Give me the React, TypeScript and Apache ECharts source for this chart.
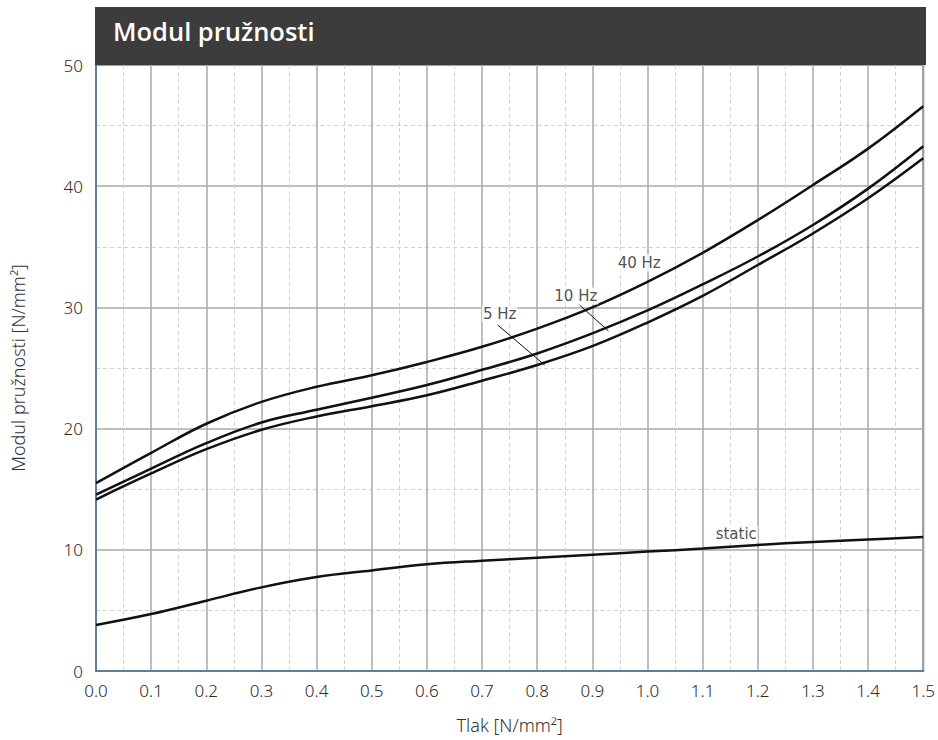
import React, { useEffect, useRef } from "react";
import * as echarts from "echarts";

const pressure = [0, 0.1, 0.2, 0.3, 0.4, 0.5, 0.6, 0.7, 0.8, 0.9, 1.0, 1.1, 1.2, 1.3, 1.4, 1.5];
const e40 = [15.5, 18.0, 20.4, 22.2, 23.45, 24.4, 25.5, 26.75, 28.25, 30.0, 32.1, 34.5, 37.2, 40.1, 43.1, 46.6];
const e10 = [14.55, 16.7, 18.8, 20.5, 21.55, 22.55, 23.6, 24.85, 26.2, 27.85, 29.75, 31.9, 34.2, 36.8, 39.8, 43.3];
const e5 = [14.15, 16.3, 18.3, 19.9, 21.0, 21.85, 22.75, 23.95, 25.25, 26.8, 28.75, 30.95, 33.5, 36.1, 39.0, 42.3];
const eStatic = [3.8, 4.7, 5.8, 6.9, 7.75, 8.3, 8.8, 9.1, 9.35, 9.6, 9.85, 10.1, 10.4, 10.65, 10.85, 11.05];

const labelNames = ["40 Hz", "10 Hz", "5 Hz", "static"];
const labelX = [0.985, 0.87, 0.732, 1.161];
const labelY = [33.66, 30.94, 29.46, 11.3];

// leader lines: [x1, y1, x2, y2]
const leader5 = [0.7283, 28.55, 0.8134, 25.25];
const leader10 = [0.8768, 30.2, 0.9293, 28.05];

const title = "Modul pružnosti";
const xName = "Tlak [N/mm²]";
const yName = "Modul pružnosti [N/mm²]";

const zip = (ys: number[]) => pressure.map((x, i) => [x, ys[i]]);

export default function App() {
  const ref = useRef<HTMLDivElement>(null);
  useEffect(() => {
    if (!ref.current) return;
    const chart = echarts.init(ref.current, null, { renderer: "svg" });
    const lineSeries = (name: string, ys: number[], extra: any = {}) => ({
      name,
      type: "line",
      data: zip(ys),
      smooth: 0.4,
      showSymbol: false,
      symbol: "none",
      lineStyle: { color: "#111", width: 2.5 },
      silent: true,
      z: 3,
      ...extra,
    });
    const mkLine = (l: number[]) => [{ coord: [l[0], l[1]] }, { coord: [l[2], l[3]] }];
    const tickFont = { fontSize: 17, color: "#2a2a2a", fontFamily: "Noto Sans", fontWeight: 300 };
    chart.setOption({
      animation: false,
      backgroundColor: "#ffffff",
      textStyle: { fontFamily: "Noto Sans" },
      grid: {
        left: 96,
        right: 14,
        top: 65,
        bottom: 69,
        show: true,
        borderColor: "#637d96",
        borderWidth: 2,
        backgroundColor: "transparent",
      },
      xAxis: {
        type: "value",
        min: 0,
        max: 1.5,
        interval: 0.1,
        name: xName,
        nameLocation: "middle",
        nameGap: 45,
        nameTextStyle: { fontSize: 18, color: "#333", fontFamily: "Noto Sans", fontWeight: 300 },
        axisLine: { show: true, lineStyle: { color: "#637d96", width: 2 } },
        axisTick: { show: false },
        axisLabel: {
          formatter: (v: number) => v.toFixed(1),
          margin: 11,
          ...tickFont,
        },
        splitLine: { show: true, lineStyle: { color: "#a9a9a9", width: 1.5 } },
        minorTick: { show: false, splitNumber: 2 },
        minorSplitLine: { show: true, lineStyle: { color: "#d2d2d2", width: 1, type: [4, 3] } },
      },
      yAxis: {
        type: "value",
        min: 0,
        max: 50,
        interval: 10,
        name: yName,
        nameLocation: "middle",
        nameGap: 69,
        nameTextStyle: { fontSize: 18, color: "#333", fontFamily: "Noto Sans", fontWeight: 300 },
        axisLine: { show: true, lineStyle: { color: "#637d96", width: 2 } },
        axisTick: { show: false },
        axisLabel: { margin: 13, ...tickFont },
        splitLine: { show: true, lineStyle: { color: "#a9a9a9", width: 1.5 } },
        minorTick: { show: false, splitNumber: 2 },
        minorSplitLine: { show: true, lineStyle: { color: "#d2d2d2", width: 1, type: [4, 3] } },
      },
      graphic: [
        {
          type: "rect",
          left: 95,
          top: 7,
          shape: { width: 831, height: 58 },
          style: { fill: "#3c3c3c" },
          z: 10,
        },
        {
          type: "text",
          left: 113,
          top: 18,
          style: {
            text: title,
            fill: "#ffffff",
            font: "600 25.5px 'Open Sans'",
          },
          z: 11,
        },
      ],
      series: [
        lineSeries("40 Hz", e40),
        lineSeries("10 Hz", e10, {
          markLine: {
            silent: true,
            symbol: "none",
            label: { show: false },
            lineStyle: { color: "#111", width: 1, type: "solid" },
            data: [mkLine(leader10)],
          },
        }),
        lineSeries("5 Hz", e5, {
          markLine: {
            silent: true,
            symbol: "none",
            label: { show: false },
            lineStyle: { color: "#111", width: 1, type: "solid" },
            data: [mkLine(leader5)],
          },
        }),
        lineSeries("static", eStatic),
        {
          name: "labels",
          type: "scatter",
          symbolSize: 1,
          itemStyle: { color: "transparent" },
          silent: true,
          z: 5,
          data: labelNames.map((n, i) => ({ value: [labelX[i], labelY[i]], name: n })),
          label: {
            show: true,
            position: "inside",
            formatter: (p: any) => p.name,
            fontSize: 15,
            color: "#222",
            fontFamily: "DejaVu Sans",
            backgroundColor: "#ffffff",
            padding: [1, 1],
          },
        },
      ],
    });
    return () => chart.dispose();
  }, []);
  return (
    <div
      ref={ref}
      style={{ position: "absolute", left: 0, top: 0, width: 938, height: 740 }}
    />
  );
}
